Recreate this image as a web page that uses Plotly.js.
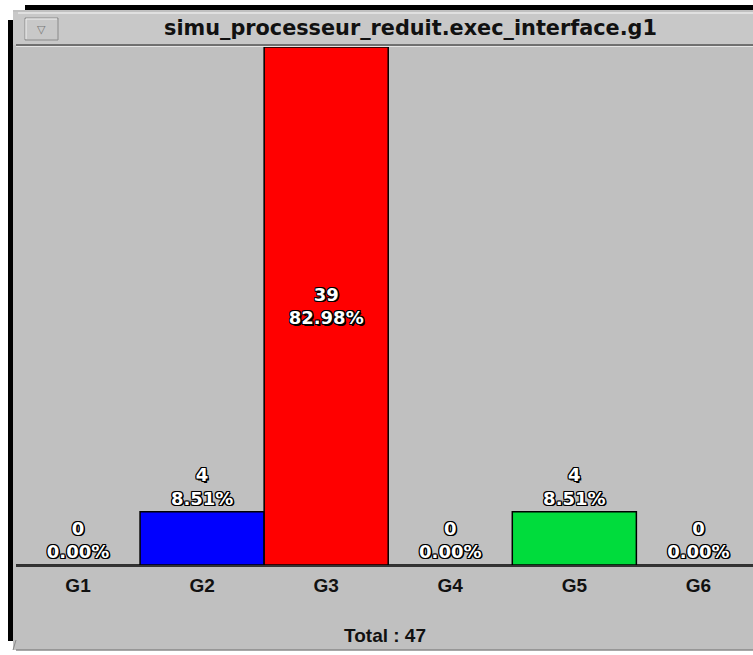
<!DOCTYPE html>
<html>
<head>
<meta charset="utf-8">
<script src="https://cdn.plot.ly/plotly-3.0.1.min.js"></script>
<style>
html,body{margin:0;padding:0;background:#ffffff;}
#chart{width:753px;height:655px;}
</style>
</head>
<body>
<div id="chart"></div>
<script>
// ---- data ----
const categories = ['G1', 'G2', 'G3', 'G4', 'G5', 'G6'];
const counts = [0, 4, 39, 0, 4, 0];
const percents = ['0.00%', '8.51%', '82.98%', '0.00%', '8.51%', '0.00%'];
const barColors = ['#c0c0c0', '#0000ff', '#ff0000', '#c0c0c0', '#00dc3c', '#c0c0c0'];
const textPositions = ['outside', 'outside', 'inside', 'outside', 'outside', 'outside'];
const total = 47;
const windowTitle = 'simu_processeur_reduit.exec_interface.g1';

const W = 753, H = 655;
const px = v => v / W;            // page x -> paper
const py = v => 1 - v / H;        // page y -> paper

const labels = counts.map((c, i) => c + '<br>' + percents[i]);

const outline = '1px 1px 0 #000, -1px -1px 0 #000, 1px -1px 0 #000, -1px 1px 0 #000, 0 1px 0 #000, 1px 0 0 #000, 0 -1px 0 #000, -1px 0 0 #000, 1.5px 1.5px 0 #000';
const labelFont = {family: 'DejaVu Sans', size: 18, color: '#ffffff', weight: 'bold', shadow: outline};

const trace = {
  type: 'bar',
  x: categories,
  y: counts,
  text: labels,
  textposition: textPositions,
  insidetextanchor: 'middle',
  textangle: 0,
  cliponaxis: false,
  constraintext: 'none',
  textfont: labelFont,
  insidetextfont: labelFont,
  outsidetextfont: labelFont,
  marker: {color: barColors, line: {color: '#000000', width: 1.5}},
  hoverinfo: 'skip'
};

const shapes = [
  // black top and left frame bars
  {type: 'rect', xref: 'paper', yref: 'paper', x0: px(25), x1: px(753), y0: py(10), y1: py(5), fillcolor: '#000', line: {width: 0}, layer: 'below'},
  {type: 'rect', xref: 'paper', yref: 'paper', x0: px(8), x1: px(13), y0: py(641), y1: py(20), fillcolor: '#000', line: {width: 0}, layer: 'below'},
  // window body
  {type: 'rect', xref: 'paper', yref: 'paper', x0: px(13), x1: px(753), y0: py(650), y1: py(10), fillcolor: '#c0c0c0', line: {width: 0}, layer: 'below'},
  // title bar
  {type: 'rect', xref: 'paper', yref: 'paper', x0: px(13), x1: px(753), y0: py(45), y1: py(12), fillcolor: '#c8c8c8', line: {width: 0}, layer: 'below'},
  {type: 'line', xref: 'paper', yref: 'paper', x0: px(18), x1: px(753), y0: py(13), y1: py(13), line: {color: '#e8e8e8', width: 1.5}, layer: 'below'},
  {type: 'line', xref: 'paper', yref: 'paper', x0: px(16), x1: px(753), y0: py(45), y1: py(45), line: {color: '#555555', width: 1.5}, layer: 'below'},
  {type: 'line', xref: 'paper', yref: 'paper', x0: px(16), x1: px(753), y0: py(46.5), y1: py(46.5), line: {color: '#e6e6e6', width: 1}, layer: 'below'},
  // title button
  {type: 'rect', xref: 'paper', yref: 'paper', x0: px(25), x1: px(58), y0: py(40), y1: py(18), fillcolor: '#c8c8c8', line: {color: '#8a8a8a', width: 1}, layer: 'below'},
  {type: 'line', xref: 'paper', yref: 'paper', x0: px(26), x1: px(57), y0: py(19), y1: py(19), line: {color: '#f0f0f0', width: 1}, layer: 'below'},
  {type: 'line', xref: 'paper', yref: 'paper', x0: px(26), x1: px(26), y0: py(19), y1: py(39), line: {color: '#f0f0f0', width: 1}, layer: 'below'},
  // bottom edge
  {type: 'line', xref: 'paper', yref: 'paper', x0: px(16), x1: px(753), y0: py(650), y1: py(650), line: {color: '#8a8a8a', width: 1.5}, layer: 'below'},
  {type: 'line', xref: 'paper', yref: 'paper', x0: px(13), x1: px(16), y0: py(650), y1: py(640), line: {color: '#8a8a8a', width: 1}, layer: 'below'}
];

const annotations = [
  {xref: 'paper', yref: 'paper', x: px(411), y: py(28), text: windowTitle, showarrow: false,
   xanchor: 'center', yanchor: 'middle', font: {family: 'DejaVu Sans', size: 20.8, color: '#111111', weight: 'bold'}},
  {xref: 'paper', yref: 'paper', x: px(41.5), y: py(29), text: '▽', showarrow: false,
   xanchor: 'center', yanchor: 'middle', font: {family: 'DejaVu Sans', size: 11, color: '#777777'}},
  {xref: 'paper', yref: 'paper', x: px(385), y: py(635), text: 'Total : ' + total, showarrow: false,
   xanchor: 'center', yanchor: 'middle', font: {family: 'Liberation Sans', size: 19, color: '#111111', weight: 'bold'}}
];

const layout = {
  width: W,
  height: H,
  margin: {l: 0, r: 0, t: 0, b: 0, pad: 0},
  paper_bgcolor: '#ffffff',
  plot_bgcolor: '#c0c0c0',
  showlegend: false,
  bargap: 0,
  xaxis: {
    domain: [px(16), 1],
    range: [-0.5, 5.44],
    type: 'category',
    showgrid: false,
    zeroline: false,
    showline: true,
    linecolor: '#333333',
    linewidth: 2,
    ticks: '',
    ticklabelstandoff: 2,
    tickfont: {family: 'Liberation Sans', size: 19, color: '#111111', weight: 'bold'},
    fixedrange: true
  },
  yaxis: {
    domain: [py(565), py(47)],
    range: [0, 39],
    showgrid: false,
    zeroline: false,
    showline: false,
    showticklabels: false,
    ticks: '',
    fixedrange: true
  },
  shapes: shapes,
  annotations: annotations
};

Plotly.newPlot('chart', [trace], layout, {displayModeBar: false, staticPlot: true});
</script>
</body>
</html>
